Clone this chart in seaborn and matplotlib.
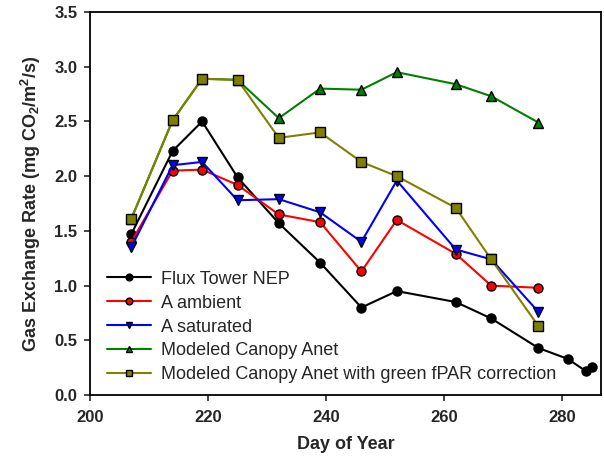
import matplotlib
matplotlib.use("Agg")
import matplotlib.pyplot as plt
import seaborn as sns
import pandas as pd

days_flux = [207, 214, 219, 225, 232, 239, 246, 252, 262, 268, 276, 281, 284, 285]
flux_nep = [1.47, 2.23, 2.50, 1.99, 1.57, 1.21, 0.80, 0.95, 0.85, 0.70, 0.43, 0.33, 0.22, 0.26]

days = [207, 214, 219, 225, 232, 239, 246, 252, 262, 268, 276]
a_ambient = [1.40, 2.05, 2.06, 1.92, 1.65, 1.58, 1.13, 1.60, 1.29, 1.00, 0.98]
a_saturated = [1.35, 2.10, 2.13, 1.78, 1.79, 1.67, 1.40, 1.96, 1.33, 1.24, 0.76]
canopy_anet = [1.61, 2.51, 2.89, 2.88, 2.53, 2.80, 2.79, 2.95, 2.84, 2.73, 2.49]
canopy_fpar = [1.61, 2.51, 2.89, 2.88, 2.35, 2.40, 2.13, 2.00, 1.71, 1.24, 0.63]

series_names = ["Flux Tower NEP", "A ambient", "A saturated",
                "Modeled Canopy Anet", "Modeled Canopy Anet with green fPAR correction"]

sns.set_style("ticks")
plt.rcParams['font.family'] = ['Liberation Sans', 'DejaVu Sans']
plt.rcParams['mathtext.fontset'] = 'custom'
plt.rcParams['mathtext.rm'] = 'Liberation Sans:bold'
plt.rcParams['mathtext.it'] = 'Liberation Sans:bold'
plt.rcParams['mathtext.bf'] = 'Liberation Sans:bold'

fig = plt.figure(figsize=(6.04, 4.61), dpi=100)
ax = fig.add_axes([0.149, 0.143, 0.846, 0.831])

data = [
    (days_flux, flux_nep, "black", "o"),
    (days, a_ambient, "red", "o"),
    (days, a_saturated, "blue", "v"),
    (days, canopy_anet, "green", "^"),
    (days, canopy_fpar, "olive", "s"),
]
for name, (x, y, c, m) in zip(series_names, data):
    df = pd.DataFrame({"day": x, "val": y})
    sns.lineplot(data=df, x="day", y="val", ax=ax, color=c, marker=m,
                 markersize=6.5, markeredgecolor="black", markeredgewidth=1.0,
                 linewidth=1.5, label=name)

ax.set_xlim(200, 286.6)
ax.set_ylim(0, 3.5)
ax.set_xticks([200, 220, 240, 260, 280])
yt = [0.0, 0.5, 1.0, 1.5, 2.0, 2.5, 3.0, 3.5]
ax.set_yticks(yt)
ax.set_yticklabels([f"{v:.1f}" for v in yt])
ax.tick_params(direction="out", length=4, width=1.2, labelsize=12, pad=5)
ax.tick_params(axis="x", pad=7)
for lbl in ax.get_xticklabels() + ax.get_yticklabels():
    lbl.set_fontweight("bold")
for sp in ax.spines.values():
    sp.set_linewidth(1.3)
    sp.set_color("black")

ax.set_xlabel("Day of Year", fontsize=13, fontweight="bold", labelpad=8)
ax.set_ylabel("Gas Exchange Rate (mg CO$_2$/m$^2$/s)", fontsize=13, fontweight="bold", labelpad=8)

leg = ax.legend(loc="lower left", frameon=False, fontsize=13, handlelength=2.4,
                handletextpad=0.55, markerscale=0.75,
                borderaxespad=0.0, labelspacing=0.38, bbox_to_anchor=(0.02, 0.012))

fig.savefig("out.png", dpi=100)
